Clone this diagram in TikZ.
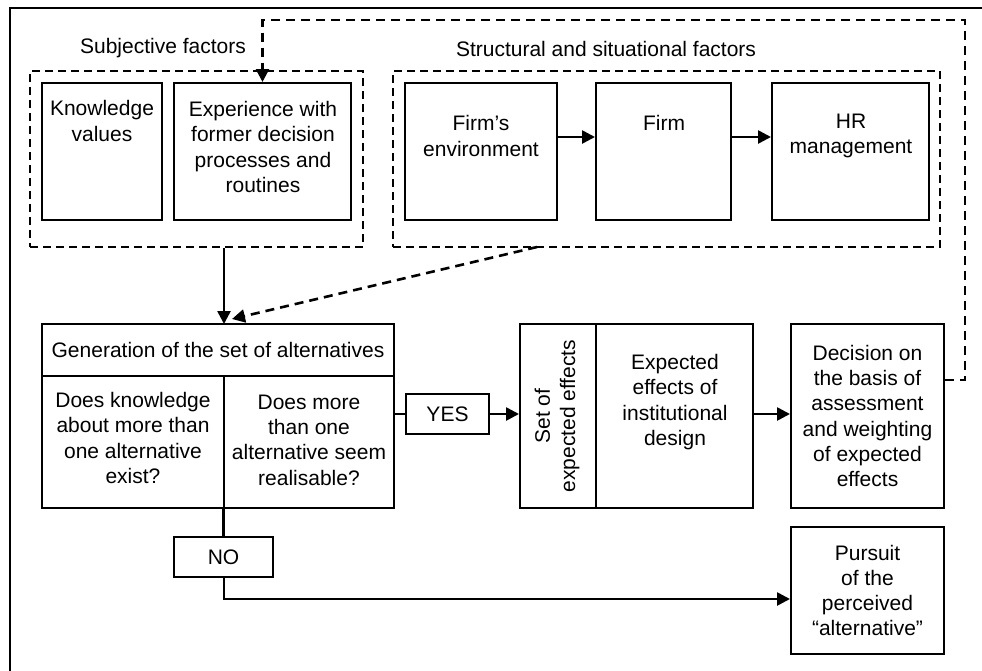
\documentclass[tikz,border=0pt]{standalone}
\usepackage{fontspec}
\setmainfont{Liberation Sans}
\usetikzlibrary{arrows.meta,fit,calc}
\begin{document}
\begin{tikzpicture}[x=1pt,y=-1pt,
  box/.style={draw,line width=2pt,inner sep=0pt},
  grp/.style={draw,line width=2pt,dash pattern=on 8pt off 5pt,inner sep=0pt},
  txt/.style={align=center,font=\fontsize{21}{25.3}\selectfont,inner sep=0pt},
  arr/.style={line width=2.6pt,-{Triangle[length=13pt,width=13pt]}},
  darr/.style={line width=2.6pt,dash pattern=on 9pt off 6pt,-{Triangle[length=13pt,width=13pt]}},
  ln/.style={line width=2.6pt}]
\useasboundingbox[fill=white] (0,0) rectangle (982,670);
\clip (0,0) rectangle (982,670);
\draw[line width=2.4pt] (10,8) rectangle (1000,700);

% group labels
\node[txt] (subjl) at (163,48) {Subjective factors};
\node[txt] (strl) at (606,49) {Structural and situational factors};

% groups
\node[grp,fit={(30,71) (363,247)}] (subj) {};
\node[grp,fit={(393,71) (940,247)}] (str) {};

% subjective boxes
\node[box,fit={(42,83) (162,220)}] (kv) {};
\node[txt] (kvt) at (102,121) {Knowledge\\values};
\node[box,fit={(174,83) (351,220)}] (exp) {};
\node[txt] (expt) at (263,147) {Experience with\\former decision\\processes and\\routines};

% structural boxes
\node[box,fit={(405,83) (557,220)}] (env) {};
\node[txt] (envt) at (481,136) {Firm’s\\environment};
\node[box,fit={(596,83) (731,220)}] (firm) {};
\node[txt] (firmt) at (664,123) {Firm};
\node[box,fit={(772,83) (929,220)}] (hr) {};
\node[txt] (hrt) at (851,136) {HR\\management};
\draw[arr] (env.east |- 0,137) -- (firm.west |- 0,137);
\draw[arr] (firm.east |- 0,137) -- (hr.west |- 0,137);

% generation box
\node[box,fit={(42,324) (394,508)}] (gen) {};
\coordinate (gtop) at (224,324);
\coordinate (gmid) at (224,376);
\draw[line width=2pt] (gen.west |- gmid) -- (gen.east |- gmid);
\draw[line width=2pt] (gmid) -- (gmid |- gen.south);
\node[txt] (gent) at (218,350) {Generation of the set of alternatives};
\node[txt] (genl) at (133,438) {Does knowledge\\about more than\\one alternative\\exist?};
\node[txt] (genr) at (309,440) {Does more\\than one\\alternative seem\\realisable?};

% YES
\node[box,fit={(406,394) (489,434)}] (yes) {};
\node[txt] (yest) at (yes.center) {YES};

% set of expected effects
\node[box,fit={(520,324) (753,508)}] (set) {};
\coordinate (sdiv) at (596,324);
\draw[line width=2pt] (sdiv) -- (sdiv |- set.south);
\node[txt,rotate=90] (sett) at (557,416) {Set of\\expected effects};
\node[txt] (expe) at (675,402) {Expected\\effects of\\institutional\\design};

% decision
\node[box,fit={(791,324) (944,508)}] (dec) {};
\node[txt] (dect) at (dec.center) {Decision on\\the basis of\\assessment\\and weighting\\of expected\\effects};

% pursuit
\node[box,fit={(791,527) (944,654)}] (pur) {};
\node[txt] (purt) at (pur.center) {Pursuit\\of the\\perceived\\“alternative”};

% NO
\node[box,fit={(174,537) (273,577)}] (no) {};
\node[txt] (not) at (no.center) {NO};

% connectors
\draw[arr] (subj.south -| gtop) -- (gtop);
\coordinate (dstart) at (537,247);
\coordinate (dend) at (232,319);
\draw[darr] (dstart) -- (dend);
\draw[ln] (gen.east |- yes.west) -- (yes.west);
\draw[arr] (yes.east) -- (set.west |- yes.east);
\draw[arr] (set.east |- yes.east) -- (dec.west |- yes.east);
\coordinate (fbR) at (965,380);
\coordinate (fbT) at (965,20);
\draw[darr] (dec.east |- fbR) -- (fbR) -- (fbT) -| (exp.north);
\draw[ln] (no.north |- gen.south) -- (no.north);
\coordinate (nob) at (224,599);
\draw[arr] (no.south -| nob) -- (nob) -- (nob -| pur.west);
\end{tikzpicture}
\end{document}
